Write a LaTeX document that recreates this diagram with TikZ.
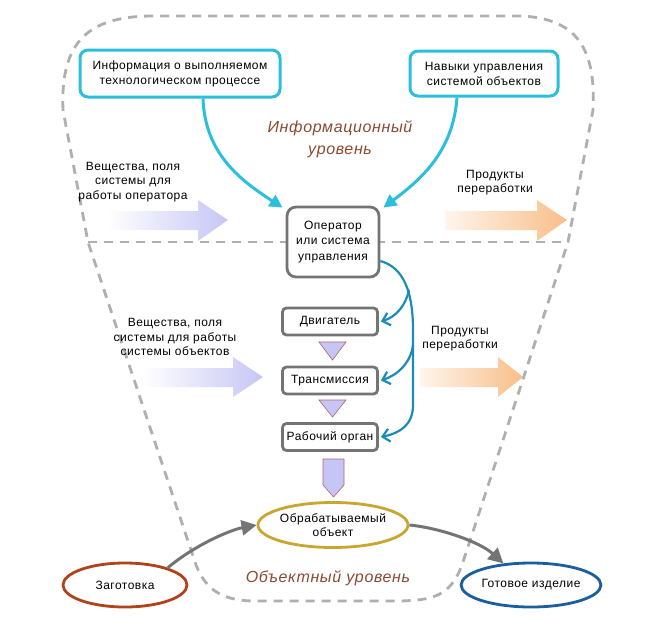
\documentclass[tikz,border=0pt]{standalone}
\usepackage{fontspec}
\setmainfont{Liberation Sans}
\newfontfamily\labfont[LetterSpace=4]{Liberation Sans}
\usetikzlibrary{shapes.geometric,arrows.meta}
\definecolor{dashgray}{HTML}{AFAFAF}
\definecolor{cyanb}{HTML}{2BBFDD}
\definecolor{tealb}{HTML}{1B8DB3}
\definecolor{boxgray}{HTML}{747474}
\definecolor{lav}{HTML}{C6C6F6}
\definecolor{orng}{HTML}{F9BE88}
\definecolor{lvlbrown}{HTML}{8B4A2E}
\definecolor{zagred}{HTML}{B0421C}
\definecolor{objgold}{HTML}{C8A630}
\definecolor{gotblue}{HTML}{1B5E9E}
\definecolor{triedge}{HTML}{B86060}
\begin{document}
\begin{tikzpicture}[x=1pt,y=-1pt,
  dashline/.style={draw=dashgray,line width=2.8pt,dash pattern=on 9pt off 7pt},
  infobox/.style={draw=cyanb,line width=3pt,rounded corners=8pt,align=center,font=\labfont\fontsize{12}{15}\selectfont,inner sep=0pt},
  opbox/.style={draw=boxgray,line width=2.8pt,rounded corners=9pt,align=center,font=\labfont\fontsize{12}{15.5}\selectfont,inner sep=0pt},
  unitbox/.style={draw=boxgray,line width=2.8pt,rounded corners=4pt,minimum width=95pt,minimum height=27pt,font=\labfont\fontsize{12}{15}\selectfont,inner sep=0pt},
  oval/.style={ellipse,line width=2.8pt,align=center,font=\labfont\fontsize{12}{14}\selectfont,inner sep=0pt},
  txt/.style={align=center,font=\labfont\fontsize{12}{14.2}\selectfont,inner sep=0pt},
  lvl/.style={align=center,text=lvlbrown,font=\labfont\fontsize{16}{22}\selectfont\itshape,inner sep=0pt},
  cyanarrow/.style={draw=cyanb,line width=3pt,-{Triangle[length=13pt,width=13pt]}},
  tealarrow/.style={draw=tealb,line width=2.2pt,-{Straight Barb[length=7pt,width=13pt,line width=2.2pt]}},
  grayarrow/.style={draw=boxgray,line width=3pt,-{Triangle[length=15pt,width=15pt]}},
  tri/.style={fill=lav,draw=triedge,line width=0.6pt}
]
\useasboundingbox (0,0) rectangle (645,622);

% outer dashed contour
\draw[dashline] (63,110) .. controls (60,40) and (90,17) .. (150,16) -- (520,16)
  .. controls (578,18) and (596,50) .. (593,110) -- (568,242) -- (462,565)
  .. controls (450,597) and (432,600) .. (400,601) -- (252,601)
  .. controls (222,600) and (206,590) .. (196,565) -- (88,242) -- cycle;
\draw[dashline] (88,242) -- (568,242);

% block arrows
\shade[left color=white,right color=lav] (107,211) -- (198,211) -- (198,200) -- (228,220) -- (198,241) -- (198,230) -- (107,230) -- cycle;
\shade[left color=orng!15,right color=orng] (445,211) -- (537,211) -- (537,200) -- (567,220) -- (537,241) -- (537,230) -- (445,230) -- cycle;
\shade[left color=white,right color=lav] (142,368) -- (233,368) -- (233,357) -- (263,377) -- (233,397) -- (233,387) -- (142,387) -- cycle;
\shade[left color=orng!15,right color=orng] (420,368) -- (498,368) -- (498,357) -- (523,377) -- (498,397) -- (498,387) -- (420,387) -- cycle;

% boxes
\node[infobox,minimum width=200pt,minimum height=47pt] (info) at (180,73.5) {Информация о выполняемом\\технологическом процессе};
\node[infobox,minimum width=148pt,minimum height=45pt] (skill) at (484,73.5) {Навыки управления\\системой объектов};
\node[opbox,fill=white,minimum width=92pt,minimum height=70pt] (op) at (333,242) {Оператор\\или система\\управления};
\node[unitbox] (dvig) at (330,321.5) {Двигатель};
\node[unitbox] (trans) at (330,380.5) {Трансмиссия};
\node[unitbox] (rab) at (330,437) {Рабочий орган};

% triangles between units
\draw[tri] (319,342) -- (346,342) -- (332.5,360) -- cycle;
\draw[tri] (319,400) -- (346,400) -- (332.5,417) -- cycle;
\draw[tri] (323,459) -- (344,459) -- (344,485) -- (333.5,497) -- (323,485) -- cycle;

% ovals
\node[oval,draw=objgold,minimum width=122pt,minimum height=45pt] (obj) at (333,525) {Обрабатываемый\\объект};
\node[oval,draw=zagred,minimum width=124pt,minimum height=44pt] (zag) at (125,585) {Заготовка};
\node[oval,draw=gotblue,minimum width=123pt,minimum height=44pt] (got) at (531,585) {Готовое изделие};

% texts
\node[txt] (t1) at (133,182) {Вещества, поля\\системы для\\работы оператора};
\node[txt] (t2) at (495,183) {Продукты\\переработки};
\node[txt] (t3) at (175,337) {Вещества, поля\\системы для работы\\системы объектов};
\node[txt] (t4) at (460,339) {Продукты\\переработки};
\node[lvl] (l1) at (340,139) {Информационный\\уровень};
\node[lvl] (l2) at (328,578) {Объектный уровень};

% cyan arrows
\draw[cyanarrow] ([xshift=23pt]info.south) .. controls +(2,55) and (240,180) .. ([xshift=-3pt,yshift=-2pt]op.north west);
\draw[cyanarrow] ([xshift=-27pt]skill.south) .. controls +(-4,55) and (420,180) .. ([xshift=3pt,yshift=-2pt]op.north east);

% teal arrows
\coordinate (b1) at (409,290);
\coordinate (b2) at (413,345);
\draw[tealarrow] ([yshift=-19pt]op.east) .. controls (398,266) and (413,282) .. (413,330) -- (413,405)
   .. controls (413,425) and (400,433) .. ([xshift=2pt]rab.east);
\draw[tealarrow] (b1) .. controls (406,305) and (396,317) .. ([xshift=2pt]dvig.east);
\draw[tealarrow] (b2) .. controls (411,362) and (398,375) .. ([xshift=2pt]trans.east);

% gray arrows
\draw[grayarrow] (zag.22) .. controls (195,545) and (230,530) .. (obj.west);
\draw[grayarrow] (obj.east) .. controls (440,528) and (480,542) .. (got.142);
\end{tikzpicture}
\end{document}
